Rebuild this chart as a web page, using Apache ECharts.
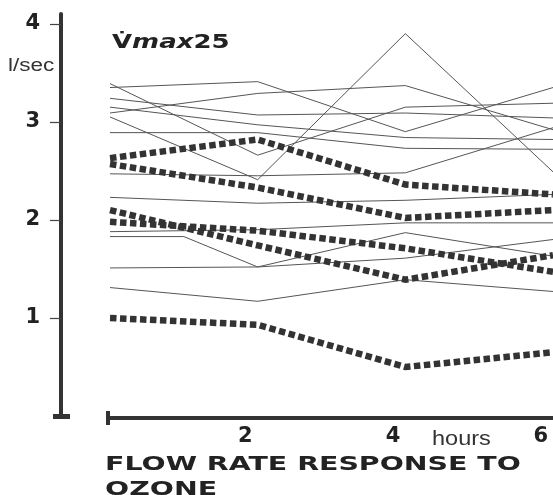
<!DOCTYPE html>
<html>
<head>
<meta charset="utf-8">
<script src="https://cdn.jsdelivr.net/npm/echarts@6/dist/echarts.min.js"></script>
<style>html,body{margin:0;padding:0;background:#fff;}#c{width:553px;height:495px;}</style>
</head>
<body>
<div id="c"></div>
<script>
// hours after start of exposure
const hours = [0, 2, 4, 6];
const hoursExtra = [0, 1, 2, 4, 6];
// y-axis / x-axis tick labels
const yTicks = [1, 2, 3, 4];
const xTicks = [2, 4, 6];
// individual subjects (thin lines), Vmax25 in l/sec
const s01 = [3.05, 2.41, 3.90, 2.49];
const s02 = [3.39, 2.66, 3.15, 3.19];
const s03 = [3.35, 3.41, 2.90, 3.35];
const s04 = [3.09, 3.29, 3.37, 2.92];
const s05 = [3.24, 3.07, 3.09, 3.04];
const s06 = [3.15, 2.97, 2.84, 2.82];
const s07 = [2.89, 2.89, 2.73, 2.72];
const s08 = [2.47, 2.45, 2.48, 2.94];
const s09 = [2.23, 2.17, 2.20, 2.26];
const s10 = [1.88, 1.90, 1.97, 1.97];
const s11 = [1.83, 1.83, 1.52, 1.87, 1.63]; // uses hoursExtra
const s12 = [1.51, 1.52, 1.61, 1.80];
const s13 = [1.31, 1.17, 1.39, 1.27];
// highlighted subjects (heavy dotted lines)
const m1 = [2.63, 2.82, 2.36, 2.26];
const m2 = [2.57, 2.33, 2.02, 2.10];
const m3 = [2.10, 1.74, 1.39, 1.64];
const m4 = [1.98, 1.89, 1.71, 1.47];
const m5 = [1.00, 0.93, 0.50, 0.65];

const thin = [[hours,s01],[hours,s02],[hours,s03],[hours,s04],[hours,s05],[hours,s06],[hours,s07],
  [hours,s08],[hours,s09],[hours,s10],[hoursExtra,s11],[hours,s12],[hours,s13]];
const heavy = [m1, m2, m3, m4, m5];

const pair = (xs, ys) => ys.map((v, i) => [xs[i], v]);
const series = [];
thin.forEach(([xs, ys]) => series.push({
  type: 'line', data: pair(xs, ys), symbol: 'none', silent: true,
  lineStyle: { color: '#555', width: 1 }
}));
heavy.forEach(ys => series.push({
  type: 'line', data: pair(hours, ys), symbol: 'none', silent: true,
  lineStyle: { color: '#333', width: 6.5, type: [6.5, 3.5], cap: 'butt', join: 'miter' }
}));

const chart = echarts.init(document.getElementById('c'));
const boldFont = 'DejaVu Sans';
chart.setOption({
  animation: false,
  backgroundColor: '#fff',
  grid: { left: 110, right: 0, top: 14, bottom: 79 },
  xAxis: {
    type: 'value', min: 0, max: 6, offset: 2,
    axisLine: { show: true, onZero: false, lineStyle: { color: '#333', width: 4 } },
    axisTick: { show: false },
    splitLine: { show: false },
    axisLabel: {
      customValues: xTicks, align: 'right', padding: [0, 5, 0, 0], margin: 8,
      fontFamily: boldFont, fontWeight: 'bold', fontSize: 21, color: '#222'
    }
  },
  yAxis: {
    type: 'value', min: 0, max: 4.1, position: 'left', offset: 49,
    axisLine: { show: true, onZero: false, lineStyle: { color: '#333', width: 4 } },
    axisTick: { show: true, customValues: yTicks, length: 11, lineStyle: { color: '#444', width: 1.2 } },
    splitLine: { show: false },
    axisLabel: {
      customValues: yTicks, margin: 21,
      fontFamily: boldFont, fontWeight: 'bold', fontSize: 21, color: '#222'
    }
  },
  graphic: [
    // x-axis end cap
    { type: 'rect', shape: { x: 106, y: 411, width: 4, height: 14 }, style: { fill: '#333' } },
    { type: 'rect', shape: { x: 106, y: 416, width: 8, height: 4 }, style: { fill: '#333' } },
    // y-axis foot
    { type: 'rect', shape: { x: 53, y: 414, width: 17, height: 5 }, style: { fill: '#333' } },
    { type: 'text', x: 8, y: 66, scaleX: 1.25,
      style: { text: 'l/sec', fontFamily: 'Liberation Sans', fontSize: 18, fill: '#333', verticalAlign: 'middle' } },
    { type: 'text', x: 112, y: 43, scaleX: 1.3,
      style: {
        text: '{v|V\u0307}{m|max}{v|25}', verticalAlign: 'middle', fill: '#222',
        rich: {
          v: { fontFamily: boldFont, fontWeight: 'bold', fontSize: 20, fill: '#222' },
          m: { fontFamily: boldFont, fontWeight: 'bold', fontStyle: 'italic', fontSize: 20, fill: '#222' }
        }
      } },
    { type: 'text', x: 432, y: 439, scaleX: 1.12,
      style: { text: 'hours', fontFamily: 'Liberation Sans', fontSize: 21, fill: '#333', verticalAlign: 'middle' } },
    { type: 'text', x: 105, y: 465, scaleX: 1.42,
      style: { text: 'FLOW RATE RESPONSE TO', fontFamily: boldFont, fontWeight: 'bold', fontSize: 20, fill: '#222', verticalAlign: 'middle' } },
    { type: 'text', x: 105, y: 490, scaleX: 1.42,
      style: { text: 'OZONE', fontFamily: boldFont, fontWeight: 'bold', fontSize: 20, fill: '#222', verticalAlign: 'middle' } }
  ],
  series: series
});
</script>
</body>
</html>
